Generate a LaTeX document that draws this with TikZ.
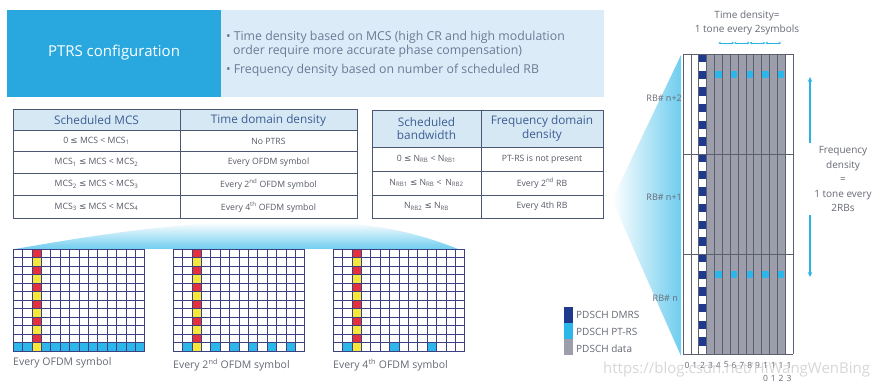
\documentclass[tikz,border=0pt]{standalone}
\usepackage{fontspec}
\setmainfont{Open Sans}
\newfontfamily\symf{DejaVu Sans}
\usetikzlibrary{arrows.meta}
\newcommand\leqs{{\symf ≤}}
\definecolor{darkbox}{HTML}{29A8DF}
\definecolor{lightbox}{HTML}{DCEBF8}
\definecolor{hdrfill}{HTML}{D7E8F5}
\definecolor{hdrtext}{HTML}{3B5E93}
\definecolor{bodytext}{HTML}{555A66}
\definecolor{tblline}{HTML}{4B5670}
\definecolor{gridline}{HTML}{3D4080}
\definecolor{ptred}{HTML}{E5313D}
\definecolor{ptyellow}{HTML}{F4E83C}
\definecolor{ptcyan}{HTML}{2DB6EA}
\definecolor{dmrs}{HTML}{1F3A8C}
\definecolor{datagray}{HTML}{9C9EAC}
\definecolor{rgline}{HTML}{5C5F6E}
\definecolor{arrowcyan}{HTML}{2DB3E3}
\definecolor{bullettext}{HTML}{6C7A96}
\definecolor{wedgecyan}{HTML}{6FCDEF}
\definecolor{labeltext}{HTML}{666A75}
\tikzset{
  hdr/.style={font=\fontsize{11.8}{13.5}\selectfont, text=hdrtext, align=center, inner sep=0pt},
  cell/.style={font=\fontsize{8.7}{10}\selectfont, text=bodytext, inner sep=0pt},
  tbl/.style={draw=tblline, line width=0.8pt},
  gl/.style={draw=gridline, line width=0.6pt},
  rgl/.style={draw=rgline, line width=0.6pt},
  small/.style={font=\fontsize{9.5}{12}\selectfont, text=labeltext, inner sep=0pt},
  bul/.style={font=\fontsize{12.3}{14}\selectfont, text=bullettext, anchor=base west, inner sep=0pt},
  tarrow/.style={draw=arrowcyan, line width=0.7pt, {Stealth[length=2.5pt,width=2.5pt]}-{Stealth[length=2.5pt,width=2.5pt]}},
  farrow/.style={draw=arrowcyan, line width=1.1pt, -{Stealth[length=5pt,width=4.5pt]}}
}
\begin{document}
\begin{tikzpicture}[x=1pt,y=-1pt]
\useasboundingbox (0,0) rectangle (880,387);
\fill[white] (0,0) rectangle (880,387);

% ---------- top banner ----------
\fill[lightbox] (221,10) rectangle (604,97);
\fill[darkbox] (7,10) rectangle (221,97);
\node[font=\fontsize{15}{18}\selectfont, text=white] (title) at (114,53) {PTRS configuration};
\node[bul] (b1) at (226,41) {•\hspace{3pt}Time density based on MCS (high CR and high modulation};
\node[bul] (b2) at (233,55) {order require more accurate phase compensation)};
\node[bul] (b3) at (226,74) {•\hspace{3pt}Frequency density based on number of scheduled RB};

% ---------- wedges ----------
\shade[top color=white, bottom color=wedgecyan] (15,249) .. controls (90,236) and (170,223) .. (250,222) -- (320,222) .. controls (390,224) and (430,238) .. (458,249) -- cycle;
\shade[left color=white, right color=wedgecyan] (681,55) -- (612,200) -- (681,356) -- cycle;

% ---------- left table ----------
\fill[hdrfill] (13,109) rectangle (357,130);
\draw[tbl] (13,109) rectangle (357,218);
\foreach \yy in {130,151,173,195} \draw[tbl] (13,\yy) -- (357,\yy);
\draw[tbl] (180,109) -- (180,218);
\node[hdr] (lh1) at (96.5,120) {Scheduled MCS};
\node[hdr] (lh2) at (268.5,120) {Time domain density};
\node[cell] (l11) at (96.5,141) {0 \leqs{} MCS < MCS\textsubscript{1}};
\node[cell] (l21) at (96.5,162.5) {MCS\textsubscript{1} \leqs{} MCS < MCS\textsubscript{2}};
\node[cell] (l31) at (96.5,184.5) {MCS\textsubscript{2} \leqs{} MCS < MCS\textsubscript{3}};
\node[cell] (l41) at (96.5,207) {MCS\textsubscript{3} \leqs{} MCS < MCS\textsubscript{4}};
\node[cell] (l12) at (268.5,141) {No PTRS};
\node[cell] (l22) at (268.5,162.5) {Every OFDM symbol};
\node[cell] (l32) at (268.5,184.5) {Every 2\textsuperscript{nd} OFDM symbol};
\node[cell] (l42) at (268.5,207) {Every 4\textsuperscript{th} OFDM symbol};

% ---------- right table ----------
\fill[hdrfill] (372,110) rectangle (603,147);
\draw[tbl] (372,110) rectangle (603,218);
\foreach \yy in {147,171,195} \draw[tbl] (372,\yy) -- (603,\yy);
\draw[tbl] (481,110) -- (481,218);
\node[hdr] (rh1) at (426.5,128.5) {Scheduled\\bandwidth};
\node[hdr] (rh2) at (542,128.5) {Frequency domain\\density};
\node[cell] (r11) at (426.5,159) {0 \leqs{} N\textsubscript{RB} < N\textsubscript{RB1}};
\node[cell] (r21) at (426.5,183) {N\textsubscript{RB1} \leqs{} N\textsubscript{RB} <\, N\textsubscript{RB2}};
\node[cell] (r31) at (426.5,206.5) {N\textsubscript{RB2} \leqs{} N\textsubscript{RB}};
\node[cell] (r12) at (542,159) {PT-RS is not present};
\node[cell] (r22) at (542,183) {Every 2\textsuperscript{nd} RB};
\node[cell] (r32) at (542,206.5) {Every 4th RB};

% ---------- bottom grids ----------
\foreach \gx/\cyl in {13/{0,1,3,4,5,6,7,8,9,10,11,12,13}, 173/{1,4,6,8,10,12}, 333/{1,6,10}} {
  \foreach \c in \cyl { \fill[ptcyan] (\gx+\c*9.4,342.5) rectangle ++(9.4,8.5); }
  \foreach \r in {0,2,...,10} { \fill[ptred] (\gx+18.8,249+\r*8.5) rectangle ++(9.4,8.5); }
  \foreach \r in {1,3,...,11} { \fill[ptyellow] (\gx+18.8,249+\r*8.5) rectangle ++(9.4,8.5); }
  \foreach \i in {0,...,14} { \draw[gl] (\gx+\i*9.4,249) -- (\gx+\i*9.4,351); }
  \foreach \j in {0,...,12} { \draw[gl] (\gx,249+\j*8.5) -- (\gx+131.6,249+\j*8.5); }
}
\node[font=\fontsize{10.5}{12}\selectfont, text=labeltext, anchor=west, inner sep=0pt] (g1) at (13,363) {Every OFDM symbol};
\node[font=\fontsize{10.5}{12}\selectfont, text=labeltext, anchor=west, inner sep=0pt] (g2) at (173,365) {Every 2\textsuperscript{nd} OFDM symbol};
\node[font=\fontsize{10.5}{12}\selectfont, text=labeltext, anchor=west, inner sep=0pt] (g3) at (333,365) {Every 4\textsuperscript{th} OFDM symbol};

% ---------- legend ----------
\fill[dmrs] (564,307) rectangle (573,323);
\fill[ptcyan] (564,323) rectangle (573,339);
\fill[datagray] (564,339) rectangle (573,355);
\node[small, anchor=west, font=\fontsize{10}{12}\selectfont] (lg1) at (576,315) {PDSCH DMRS};
\node[small, anchor=west, font=\fontsize{10}{12}\selectfont] (lg2) at (576,331.5) {PDSCH PT-RS};
\node[small, anchor=west, font=\fontsize{10}{12}\selectfont] (lg3) at (576,348.5) {PDSCH data};

% ---------- right resource grid ----------
\def\cw{7.85}
\def\sh{8.3333}
\fill[datagray] (683+3*\cw,54) rectangle (683+13*\cw,354);
\foreach \b in {0,1,2} {
  \foreach \s in {0,2,...,10} { \fill[dmrs] (683+2*\cw,54+\b*100+\s*\sh) rectangle ++(\cw,\sh); }
}
\foreach \b in {0,2} {
  \foreach \c in {4,6,8,10,12} { \fill[ptcyan] (683+\c*\cw+0.6,54+\b*100+2*\sh+0.6) rectangle ++(\cw-1.2,\sh-1.2); }
}
\foreach \i in {0,...,14} { \draw[rgl] (683+\i*\cw,54) -- (683+\i*\cw,354); }
\foreach \yy in {54,154,254,354} { \draw[rgl] (683,\yy) -- (683+14*\cw,\yy); }

\node[small, anchor=east, font=\fontsize{9}{11}\selectfont] (rb2) at (682,98) {RB\# n+2};
\node[small, anchor=east, font=\fontsize{9}{11}\selectfont] (rb1) at (682,197) {RB\# n+1};
\node[small, anchor=east, font=\fontsize{9}{11}\selectfont] (rb0) at (678,298) {RB\# n};

\foreach \i in {0,...,9} { \node[small, font=\fontsize{8.5}{10}\selectfont] (cn\i) at (683+\i*\cw+0.5*\cw,365) {\i}; }
\foreach \i/\d in {10/0,11/1,12/2,13/3} {
  \node[small, font=\fontsize{8.5}{10}\selectfont] (cn\i) at (683+\i*\cw+0.5*\cw,365) {1};
  \node[small, font=\fontsize{8.5}{10}\selectfont] (cm\i) at (683+\i*\cw+0.5*\cw,378) {\d};
}

% time density
\node[small, font=\fontsize{10}{12}\selectfont] (td1) at (747,16) {Time density=};
\node[small, font=\fontsize{10}{12}\selectfont] (td2) at (747,30) {1 tone every 2symbols};
\foreach \a/\b in {4/6,6/8,8/10,10/12} {
  \coordinate (ta\a) at (683+\a*\cw+0.5*\cw,43);
  \coordinate (tb\a) at (683+\b*\cw+0.5*\cw,43);
  \draw[tarrow] (ta\a) -- (tb\a);
}

% frequency density
\coordinate (fa1) at (810,77);
\coordinate (fa2) at (810,143);
\coordinate (fb1) at (810,215);
\coordinate (fb2) at (810,277);
\draw[farrow] (fa2) -- (fa1);
\draw[farrow] (fb1) -- (fb2);
\node[small, font=\fontsize{10}{14.5}\selectfont, align=center] (fd) at (843,179) {Frequency\\density\\=\\1 tone every\\2RBs};

% watermark
\node[font=\fontsize{15}{18}\selectfont, text=gray!45, opacity=0.7, anchor=west, inner sep=0pt] (wm) at (603,370) {https://blog.csdn.net/HiWangWenBing};
\end{tikzpicture}
\end{document}
